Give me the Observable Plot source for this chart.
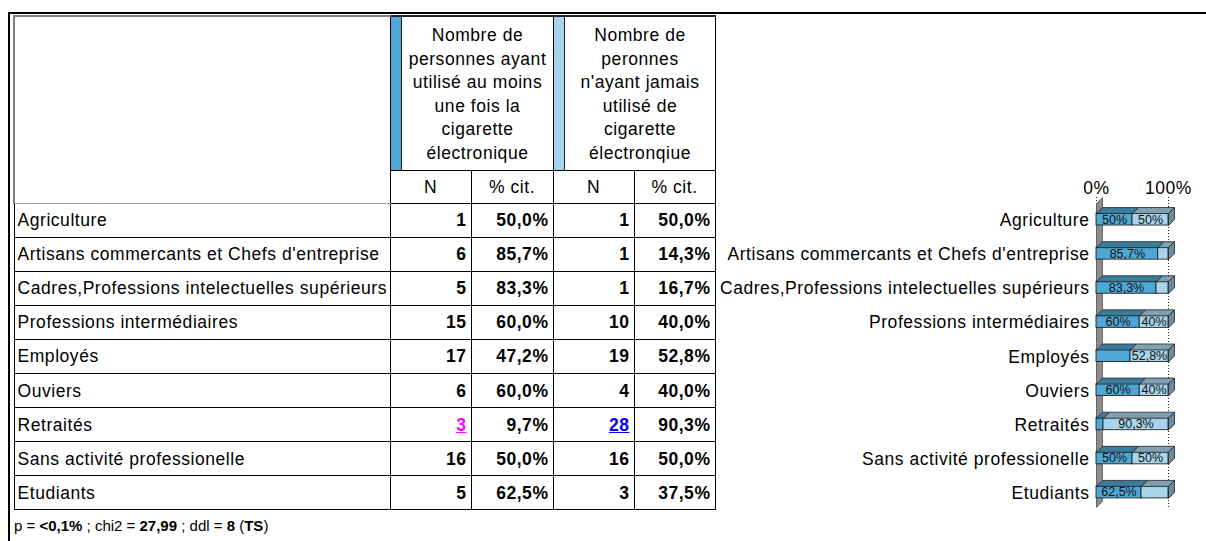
<!DOCTYPE html>
<html><head><meta charset="utf-8">
<script src="https://cdn.jsdelivr.net/npm/d3@7"></script>
<script src="https://cdn.jsdelivr.net/npm/@observablehq/plot@0.6"></script>
<style>
html,body{margin:0;padding:0;background:#fff;}
body{width:1206px;height:541px;position:relative;overflow:hidden;font-family:"Liberation Sans",Arial,sans-serif;color:#000;}
.frameTop{position:absolute;left:8px;top:12px;width:1198px;height:2px;background:#000;}
.frameLeft{position:absolute;left:8px;top:12px;width:2px;height:529px;background:#000;}
table.t{position:absolute;left:13px;top:15px;border-collapse:collapse;table-layout:fixed;width:701px;font-size:17.5px;letter-spacing:0.55px;}
table.t td{border:1px solid #000;padding:0;overflow:hidden;white-space:nowrap;line-height:20px;}
table.t td.corner{border-top:2px solid #808080;border-left:2px solid #808080;border-bottom:1px solid #a0a0a0;}
table.t td.grp{position:relative;border-top:2px solid #222;text-align:center;vertical-align:middle;padding-left:12px;padding-top:3px;line-height:23.6px;}
table.t td.grp .strip{position:absolute;left:0;top:0;bottom:0;width:10px;border-right:1px solid #222;}
table.t td.sub{text-align:center;vertical-align:middle;}
table.t td.lab{text-align:left;padding-left:3px;}
table.t td.num{text-align:right;padding-right:4px;font-weight:bold;}
table.t td.num.sigLow{color:#ff00ff;text-decoration:underline;}
table.t td.num.sigHigh{color:#0000ff;text-decoration:underline;}
.caption{position:absolute;left:14px;top:517px;font-size:15px;letter-spacing:0;white-space:nowrap;}
#chart{position:absolute;left:720px;top:160px;}
#chart g[aria-label="y-axis tick label"] text,#chart g[aria-label="x-axis tick label"] text{letter-spacing:0.55px;}
#chart g[aria-label="barlabel"] text{letter-spacing:0.3px;}
</style>
</head><body>
<div class="frameTop"></div><div class="frameLeft"></div>
<div id="table"></div>
<div class="caption" id="caption"></div>
<div id="chart"></div>
<script>
// ---------- data ----------
const categories = ["Agriculture","Artisans commercants et Chefs d'entreprise","Cadres,Professions intelectuelles supérieurs","Professions intermédiaires","Employés","Ouviers","Retraités","Sans activité professionelle","Etudiants"];
const nUsed    = [1, 6, 5, 15, 17, 6, 3, 16, 5];
const pctUsed  = [50.0, 85.7, 83.3, 60.0, 47.2, 60.0, 9.7, 50.0, 62.5];
const nNever   = [1, 1, 1, 10, 19, 4, 28, 16, 3];
const pctNever = [50.0, 14.3, 16.7, 40.0, 52.8, 40.0, 90.3, 50.0, 37.5];
const sigUsed  = ["", "", "", "", "", "", "low", "", ""];
const sigNever = ["", "", "", "", "", "", "high", "", ""];
const barLabelUsed  = ["50%", "85,7%", "83,3%", "60%", "", "60%", "", "50%", "62,5%"];
const barLabelNever = ["50%", "", "", "40%", "52,8%", "40%", "90,3%", "50%", ""];
const headerUsed  = ["Nombre de", "personnes ayant", "utilisé au moins", "une fois la", "cigarette", "électronique"];
const headerNever = ["Nombre de", "peronnes", "n'ayant jamais", "utilisé de", "cigarette", "électronqiue"];
const subHeaders = ["N", "% cit.", "N", "% cit."];
const xTicks = [0, 100];
const captionParts = [["p = ", false], ["<0,1%", true], [" ; chi2 = ", false], ["27,99", true], [" ; ddl = ", false], ["8", true], [" (", false], ["TS", true], [")", false]];

// ---------- styles ----------
const C = {usedFront:"#4fa7d4", usedTop:"#3b7c9d", neverFront:"#a7d4ea", neverTop:"#7fa1b3", side:"#6a8b9c", wall:"#8c8c8c", line:"#222"};
const fmtPct = v => v.toFixed(1).replace(".", ",") + "%";

// ---------- table ----------
const table = document.createElement("table");
table.className = "t";
const cg = document.createElement("colgroup");
[376, 81, 82, 81, 81].forEach(w => { const c = document.createElement("col"); c.style.width = w + "px"; cg.appendChild(c); });
table.appendChild(cg);
const tr1 = table.insertRow(); tr1.style.height = "154px";
const corner = tr1.insertCell(); corner.rowSpan = 2; corner.className = "corner";
[[headerUsed, C.usedFront], [headerNever, C.neverFront]].forEach(([lines, col]) => {
  const td = tr1.insertCell(); td.colSpan = 2; td.className = "grp";
  const s = document.createElement("div"); s.className = "strip"; s.style.background = col; td.appendChild(s);
  const txt = document.createElement("div"); txt.innerHTML = lines.map(l => l.replace(/&/g,"&amp;").replace(/</g,"&lt;")).join("<br>"); td.appendChild(txt);
});
const tr2 = table.insertRow(); tr2.style.height = "33px";
subHeaders.forEach(h => { const td = tr2.insertCell(); td.className = "sub"; td.textContent = h; });
categories.forEach((c, i) => {
  const tr = table.insertRow(); tr.style.height = "34.11px";
  const a = tr.insertCell(); a.className = "lab"; a.textContent = c;
  const cells = [[String(nUsed[i]), sigUsed[i]], [fmtPct(pctUsed[i]), ""], [String(nNever[i]), sigNever[i]], [fmtPct(pctNever[i]), ""]];
  cells.forEach(([v, sig]) => {
    const td = tr.insertCell(); td.className = "num" + (sig === "low" ? " sigLow" : sig === "high" ? " sigHigh" : "");
    td.textContent = v;
  });
});
document.getElementById("table").appendChild(table);
const cap = document.getElementById("caption");
captionParts.forEach(([t, b]) => { const el = document.createElement(b ? "b" : "span"); el.textContent = t; cap.appendChild(el); });

// ---------- chart ----------
const W = 486, H = 360, mL = 376, mR = 38, mT = 43, mB = 10;
const kx = (W - mL - mR) / 100, ky = (H - mT - mB) / categories.length;
const depth = 6, dX = depth / kx, dY = depth / ky, hh = 6 / ky, off = 0.03;
const segs = [];
categories.forEach((c, i) => {
  segs.push({i, s: 0, x1: 0, x2: pctUsed[i], label: barLabelUsed[i]});
  segs.push({i, s: 1, x1: pctUsed[i], x2: pctUsed[i] + pctNever[i], label: barLabelNever[i]});
});
segs.forEach(d => { d.y1 = d.i - off - hh; d.y2 = d.i - off + hh; d.k = d.i + "-" + d.s; });
const topPts = s => segs.filter(d => d.s === s).flatMap(d => [[d.x1, d.y1], [d.x2, d.y1], [d.x2 + dX, d.y1 - dY], [d.x1 + dX, d.y1 - dY], [d.x1, d.y1]].map(([x, y]) => ({x, y, k: d.k})));
const sidePts = segs.filter(d => d.s === 1).flatMap(d => [[d.x2, d.y1], [d.x2 + dX, d.y1 - dY], [d.x2 + dX, d.y2 - dY], [d.x2, d.y2], [d.x2, d.y1]].map(([x, y]) => ({x, y, k: d.k})));
const yTop = -0.5, yBot = categories.length - 0.59;
const wallPts = [[0, yTop], [dX, yTop - dY], [dX, yBot - dY], [0, yBot], [0, yTop]].map(([x, y]) => ({x, y}));

const chart = Plot.plot({
  width: W, height: H, marginLeft: mL, marginRight: mR, marginTop: mT, marginBottom: mB,
  style: {fontFamily: '"Liberation Sans", Arial, sans-serif', fontSize: "17.5px", background: "transparent", overflow: "visible", color: "#000"},
  x: {domain: [0, 100]},
  y: {domain: [-0.5, categories.length - 0.5], reverse: true},
  marks: [
    Plot.ruleX(xTicks, {y1: yTop - dY, y2: yBot, stroke: C.line, strokeDasharray: "1,2", strokeWidth: 1}),
    Plot.line(wallPts, {x: "x", y: "y", fill: C.wall, stroke: "#555", strokeWidth: 0.8}),
    Plot.rect(segs.filter(d => d.s === 0), {x1: "x1", x2: "x2", y1: "y1", y2: "y2", fill: C.usedFront, stroke: C.line, strokeWidth: 0.9}),
    Plot.rect(segs.filter(d => d.s === 1), {x1: "x1", x2: "x2", y1: "y1", y2: "y2", fill: C.neverFront, stroke: C.line, strokeWidth: 0.9}),
    Plot.line(topPts(0), {x: "x", y: "y", z: "k", fill: C.usedTop, stroke: C.line, strokeWidth: 0.8}),
    Plot.line(topPts(1), {x: "x", y: "y", z: "k", fill: C.neverTop, stroke: C.line, strokeWidth: 0.8}),
    Plot.line(sidePts, {x: "x", y: "y", z: "k", fill: C.side, stroke: C.line, strokeWidth: 0.8}),
    Plot.text(segs.filter(d => d.label), {x: d => (d.x1 + d.x2) / 2, y: d => d.i - off, text: "label", fontSize: 12.5, fill: "#111", ariaLabel: "barlabel"}),
    Plot.axisY({ticks: d3.range(categories.length), tickFormat: i => categories[i], tickSize: 0, tickPadding: 7, label: null}),
    Plot.axisX({anchor: "top", ticks: xTicks, tickFormat: d => d + "%", tickSize: 0, tickPadding: 10, label: null})
  ]
});
document.getElementById("chart").appendChild(chart);
</script>
</body></html>
